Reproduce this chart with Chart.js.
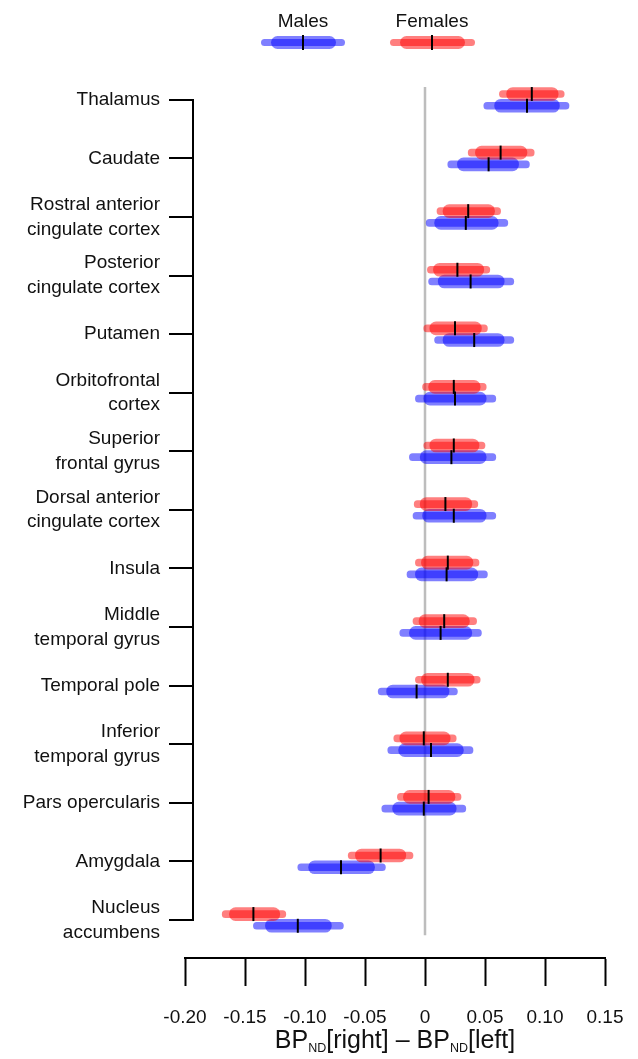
<!DOCTYPE html>
<html>
<head>
<meta charset="utf-8">
<script src="https://cdn.jsdelivr.net/npm/chart.js@4.4.1/dist/chart.umd.min.js"></script>
<style>
  body { margin: 0; background: #fff; }
  #wrap { position: relative; width: 638px; height: 1059px; font-family: 'Liberation Sans', Arial, Helvetica, sans-serif; color: #111; }
  #chart { position: absolute; left: 0; top: 0; }
  .lab { position: absolute; transform: translateX(-50%); white-space: nowrap; font-size: 19px; line-height: 1; }
  .bar { position: absolute; }
  #xtitle { position: absolute; left: 395px; top: 1027px; transform: translateX(-50%); font-size: 25px; line-height: 1; white-space: nowrap; }
  #xtitle sub { font-size: 0.5em; vertical-align: -0.3em; line-height: 0; }
</style>
</head>
<body>
<div id="wrap">
  <canvas id="chart" width="638" height="1059"></canvas>
  <div class="lab" style="left:303px; top:11px;">Males</div>
  <div class="bar" style="left:261px; top:39px; width:84px; height:7px; border-radius:4px; background:rgba(0,0,255,0.5)"></div>
  <div class="bar" style="left:271px; top:36px; width:65px; height:13px; border-radius:7px; background:rgba(0,0,255,0.5)"></div>
  <div class="bar" style="left:302px; top:35px; width:2px; height:15px; background:#000"></div>
  <div class="lab" style="left:432px; top:11px;">Females</div>
  <div class="bar" style="left:390px; top:39px; width:85px; height:7px; border-radius:4px; background:rgba(255,0,0,0.5)"></div>
  <div class="bar" style="left:400px; top:36px; width:65px; height:13px; border-radius:7px; background:rgba(255,0,0,0.5)"></div>
  <div class="bar" style="left:431px; top:35px; width:2px; height:15px; background:#000"></div>
  <div id="xtitle">BP<sub>ND</sub>[right] – BP<sub>ND</sub>[left]</div>
</div>
<script>
// regions, top to bottom
const regions = [
  'Thalamus', 'Caudate', ['Rostral anterior', 'cingulate cortex'], ['Posterior', 'cingulate cortex'],
  'Putamen', ['Orbitofrontal', 'cortex'], ['Superior', 'frontal gyrus'], ['Dorsal anterior', 'cingulate cortex'],
  'Insula', ['Middle', 'temporal gyrus'], 'Temporal pole', ['Inferior', 'temporal gyrus'],
  'Pars opercularis', 'Amygdala', ['Nucleus', 'accumbens']
];

// females (red)
const femaleMedian = [0.089, 0.063, 0.036, 0.027, 0.025, 0.024, 0.024, 0.017, 0.019, 0.016, 0.019, -0.001, 0.003, -0.037, -0.143];
const femaleLo50 = [0.068, 0.042, 0.015, 0.007, 0.004, 0.003, 0.004, -0.004, -0.003, -0.005, -0.003, -0.021, -0.018, -0.058, -0.163];
const femaleHi50 = [0.111, 0.085, 0.058, 0.049, 0.047, 0.046, 0.045, 0.039, 0.040, 0.037, 0.041, 0.021, 0.025, -0.016, -0.121];
const femaleLo95 = [0.062, 0.036, 0.010, 0.002, -0.001, -0.002, -0.001, -0.009, -0.008, -0.010, -0.008, -0.026, -0.023, -0.064, -0.169];
const femaleHi95 = [0.116, 0.091, 0.063, 0.054, 0.052, 0.051, 0.050, 0.044, 0.045, 0.043, 0.046, 0.026, 0.030, -0.010, -0.116];

// males (blue)
const maleMedian = [0.085, 0.053, 0.034, 0.038, 0.041, 0.025, 0.022, 0.024, 0.018, 0.013, -0.007, 0.005, -0.001, -0.070, -0.106];
const maleLo50 = [0.058, 0.027, 0.008, 0.011, 0.015, -0.001, -0.004, -0.002, -0.008, -0.013, -0.032, -0.022, -0.027, -0.097, -0.133];
const maleHi50 = [0.112, 0.078, 0.061, 0.066, 0.066, 0.051, 0.051, 0.051, 0.044, 0.039, 0.020, 0.032, 0.026, -0.042, -0.078];
const maleLo95 = [0.049, 0.019, 0.001, 0.003, 0.008, -0.008, -0.013, -0.010, -0.015, -0.021, -0.039, -0.031, -0.036, -0.106, -0.143];
const maleHi95 = [0.120, 0.087, 0.069, 0.074, 0.074, 0.059, 0.059, 0.059, 0.052, 0.047, 0.027, 0.040, 0.034, -0.033, -0.068];

const xTickValues = [-0.20, -0.15, -0.10, -0.05, 0, 0.05, 0.10, 0.15];
const xTickLabels = ['-0.20', '-0.15', '-0.10', '-0.05', '0', '0.05', '0.10', '0.15'];

const RED = 'rgba(255,0,0,0.5)';
const BLUE = 'rgba(0,0,255,0.5)';
const FEMALE_OFF = -0.1, MALE_OFF = 0.1;

const rows = (lo, hi, off) => lo.map((v, i) => ({ x: [v, hi[i]], y: i + off }));
const pts = (vals, off) => vals.map((v, i) => ({ x: v, y: i + off }));

function barSet(label, data, color, thickness, order) {
  return {
    type: 'bar', label, data, indexAxis: 'y', grouped: false,
    backgroundColor: color, borderWidth: 0, borderSkipped: false,
    borderRadius: 10, barThickness: thickness, order
  };
}
function medianSet(label, data) {
  return {
    type: 'scatter', label, data, pointStyle: 'line', rotation: 90,
    radius: 7, borderWidth: 2, borderColor: '#000', order: 0
  };
}

// y-axis drawn R-style: line only between first and last tick
const leftAxis = {
  id: 'leftAxis',
  afterDraw(chart) {
    const { ctx, scales: { x, y } } = chart;
    const ax = x.getPixelForValue(xTickValues[0]) + 8;
    const top = y.getPixelForValue(0), bot = y.getPixelForValue(regions.length - 1);
    ctx.save();
    ctx.strokeStyle = '#000';
    ctx.lineWidth = 2;
    ctx.beginPath();
    ctx.moveTo(ax, top - 1);
    ctx.lineTo(ax, bot + 1);
    regions.forEach((r, i) => {
      const py = Math.round(y.getPixelForValue(i));
      ctx.moveTo(ax - 24, py);
      ctx.lineTo(ax, py);
    });
    ctx.stroke();
    ctx.restore();
  }
};

Chart.defaults.font.family = "'Liberation Sans', Arial, Helvetica, sans-serif";
Chart.defaults.font.size = 19;
Chart.defaults.color = '#111';

new Chart(document.getElementById('chart'), {
  type: 'bar',
  data: {
    datasets: [
      {
        type: 'line', label: 'zero', data: [{ x: 0, y: -0.22 }, { x: 0, y: 14.26 }],
        borderColor: '#bdbdbd', borderWidth: 2.5, pointRadius: 0, order: 10
      },
      barSet('Males 95%', rows(maleLo95, maleHi95, MALE_OFF), BLUE, 7, 5),
      barSet('Males 50%', rows(maleLo50, maleHi50, MALE_OFF), BLUE, 13, 4),
      barSet('Females 95%', rows(femaleLo95, femaleHi95, FEMALE_OFF), RED, 7, 3),
      barSet('Females 50%', rows(femaleLo50, femaleHi50, FEMALE_OFF), RED, 13, 2),
      medianSet('Males median', pts(maleMedian, MALE_OFF)),
      medianSet('Females median', pts(femaleMedian, FEMALE_OFF))
    ]
  },
  options: {
    responsive: false,
    animation: false,
    events: [],
    layout: { padding: { top: 87, right: 33, left: 0, bottom: 0 } },
    plugins: { legend: { display: false }, tooltip: { enabled: false } },
    scales: {
      x: {
        type: 'linear', position: 'bottom', min: -0.2, max: 0.15, offset: false,
        afterBuildTicks: s => { s.ticks = xTickValues.map(v => ({ value: v })); },
        afterFit: s => { s.height = 101; s.paddingLeft = 0; s.paddingRight = 0; },
        ticks: { callback: (v, i) => xTickLabels[i], padding: 20, maxRotation: 0, autoSkip: false, color: '#111' },
        grid: { offset: false, drawOnChartArea: false, drawTicks: true, tickLength: 28, tickColor: '#000', tickWidth: 2 },
        border: { display: true, color: '#000', width: 2 }
      },
      y: {
        type: 'linear', position: 'left', reverse: true, offset: false,
        min: -0.22, max: 14.65,
        afterBuildTicks: s => { s.ticks = regions.map((r, i) => ({ value: i })); },
        afterFit: s => { s.width = 185; s.paddingTop = 0; s.paddingBottom = 0; },
        ticks: { callback: (v, i) => regions[i], padding: 25, autoSkip: false, font: { size: 19, lineHeight: 1.3 }, color: '#111' },
        grid: { offset: false, display: false, drawTicks: false },
        border: { display: false }
      }
    }
  },
  plugins: [leftAxis]
});
</script>
</body>
</html>
